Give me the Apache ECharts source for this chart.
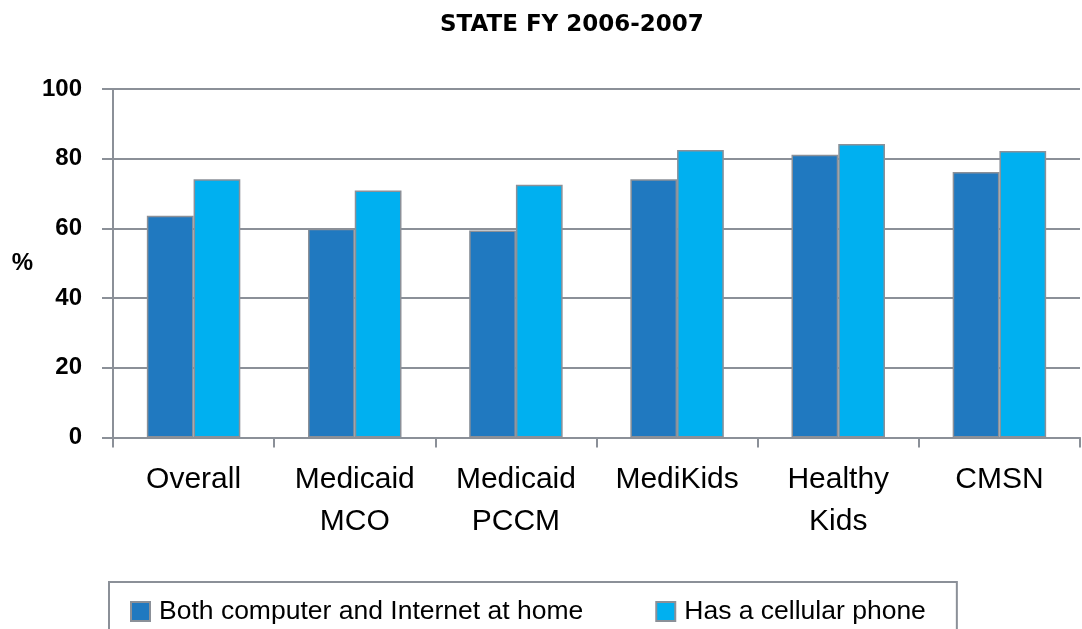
<!DOCTYPE html>
<html>
<head>
<meta charset="utf-8">
<style>
html,body{margin:0;padding:0;background:#fff;}
#chart{width:1082px;height:629px;}
</style>
<script src="https://cdn.jsdelivr.net/npm/echarts@6/dist/echarts.min.js"></script>
</head>
<body>
<div id="chart"></div>
<script>
const categories = ['Overall', 'Medicaid\nMCO', 'Medicaid\nPCCM', 'MediKids', 'Healthy\nKids', 'CMSN'];
const computerInternet = [63.6, 59.9, 59.4, 74.1, 81.1, 76.2];
const cellPhone = [74.1, 70.9, 72.5, 82.5, 84.2, 82.2];
const seriesNames = ['Both computer and Internet at home', 'Has a cellular phone'];
const yTicks = { min: 0, max: 100, interval: 20 };

const FONT = '"Liberation Sans", Arial, sans-serif';
const GREY = '#8b9098';

const chart = echarts.init(document.getElementById('chart'), null, { renderer: 'canvas' });
chart.setOption({
  animation: false,
  backgroundColor: '#ffffff',
  title: {
    text: 'STATE FY 2006-2007',
    left: 435,
    top: 9,
    textStyle: { fontFamily: '"DejaVu Sans", sans-serif', fontWeight: 'bold', fontSize: 23, color: '#000' }
  },
  grid: { left: 113, right: 2, top: 89, bottom: 191.5, containLabel: false },
  legend: {
    left: 109,
    top: 582,
    padding: [16, 31, 40, 21],
    itemWidth: 19,
    itemHeight: 19,
    itemGap: 72,
    borderColor: GREY,
    borderWidth: 2,
    icon: 'rect',
    textStyle: { fontFamily: FONT, fontSize: 26.5, color: '#000', padding: [0, 0, 0, 4] },
    data: seriesNames
  },
  xAxis: {
    type: 'category',
    data: categories,
    axisLine: { lineStyle: { color: GREY, width: 2 } },
    axisTick: { show: true, length: 10, lineStyle: { color: GREY, width: 2 } },
    axisLabel: { fontFamily: FONT, fontSize: 30, lineHeight: 42, color: '#000', margin: 21, interval: 0 }
  },
  yAxis: {
    type: 'value',
    min: yTicks.min,
    max: yTicks.max,
    interval: yTicks.interval,
    name: '%',
    nameLocation: 'middle',
    nameRotate: 0,
    nameGap: 80,
    nameTextStyle: { fontFamily: FONT, fontWeight: 'bold', fontSize: 24, color: '#000' },
    axisLine: { show: true, lineStyle: { color: GREY, width: 2 } },
    axisTick: { show: true, length: 11, lineStyle: { color: GREY, width: 2 } },
    axisLabel: { fontFamily: FONT, fontWeight: 'bold', fontSize: 24, color: '#000', margin: 31 },
    splitLine: { show: true, lineStyle: { color: GREY, width: 2 } }
  },
  series: [
    {
      name: seriesNames[0],
      type: 'bar',
      data: computerInternet,
      barWidth: '29%',
      barGap: '0%',
      itemStyle: { color: '#2079c0', borderColor: GREY, borderWidth: 1.5 }
    },
    {
      name: seriesNames[1],
      type: 'bar',
      data: cellPhone,
      barWidth: '29%',
      barGap: '0%',
      itemStyle: { color: '#00b0f0', borderColor: GREY, borderWidth: 1.5 }
    }
  ]
});
</script>
</body>
</html>
